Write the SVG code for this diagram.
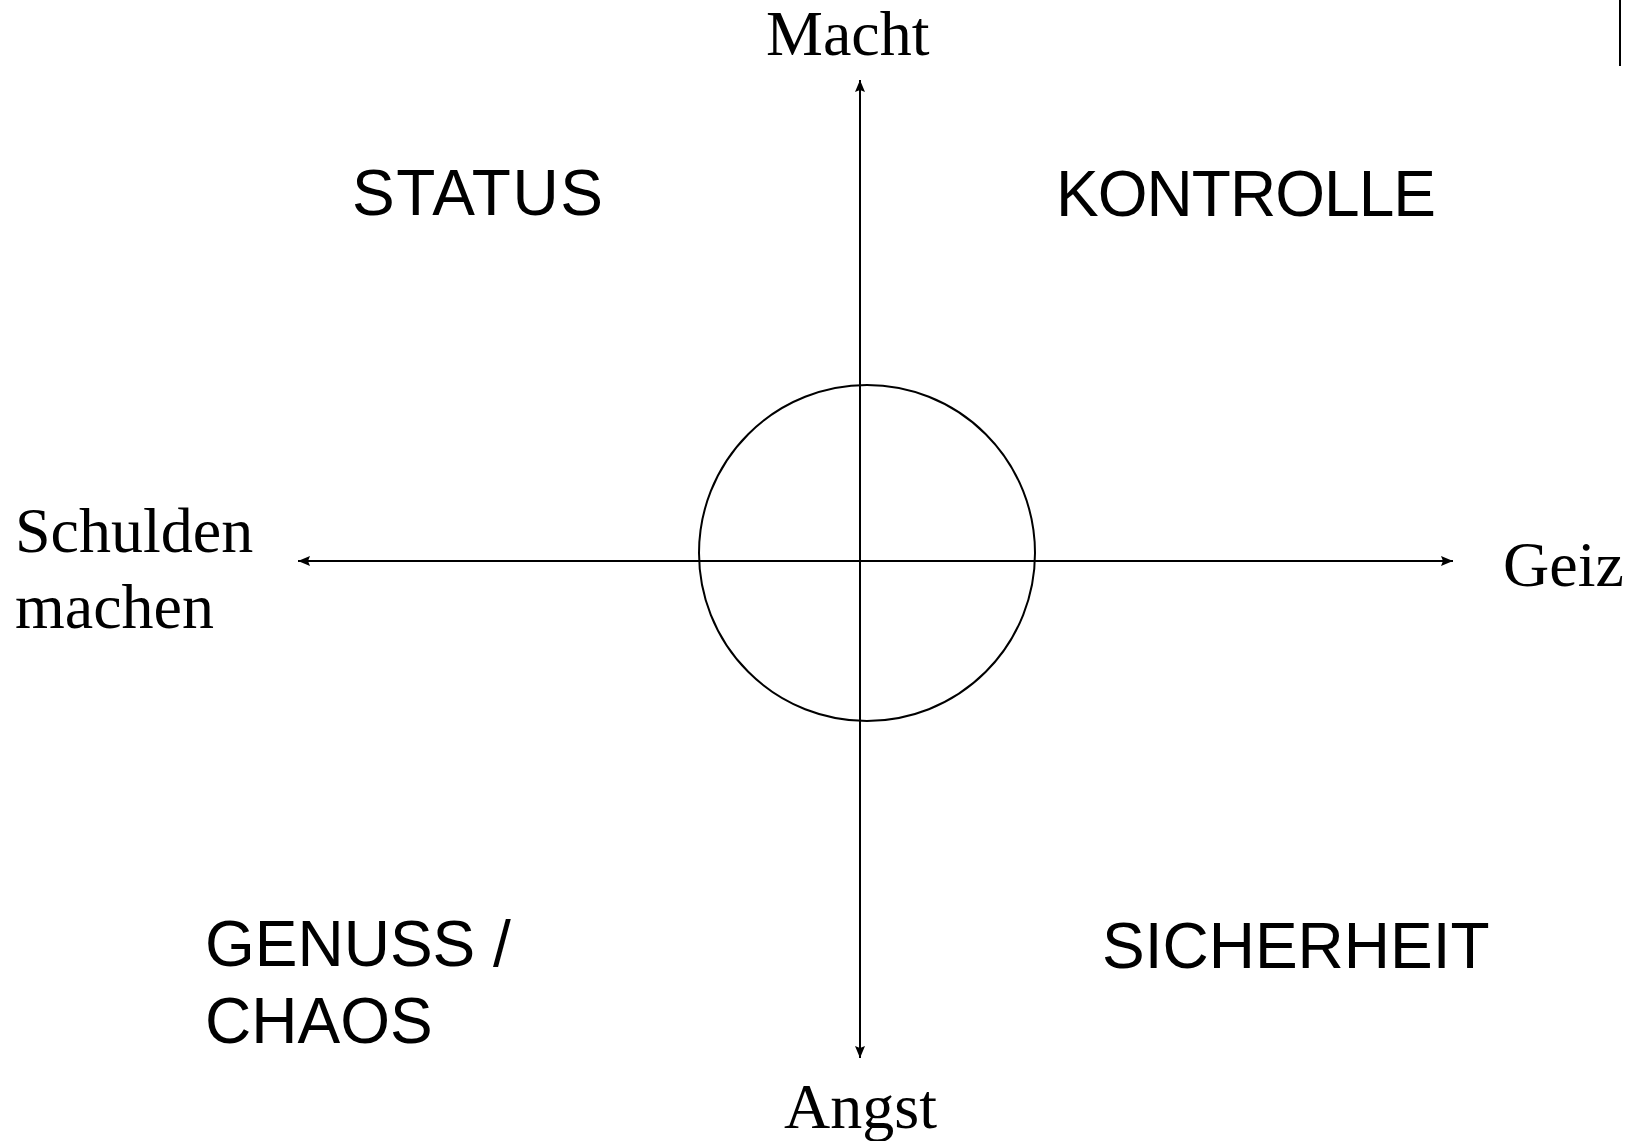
<svg xmlns="http://www.w3.org/2000/svg" width="1631" height="1141" viewBox="0 0 1631 1141">
<style>
.ax{stroke:#000;stroke-width:2;fill:none}
.serif{font-family:"Liberation Serif","Times New Roman",serif;font-size:64px;fill:#000}
.sans{font-family:"Liberation Sans",Arial,sans-serif;font-size:64px;fill:#000}
</style>
<defs>
<marker id="arr" viewBox="0 0 12 10" refX="12" refY="5" markerWidth="12" markerHeight="10" markerUnits="userSpaceOnUse" orient="auto">
<path d="M0,0 L12,5 L0,10 L2,5 z" fill="#000"/>
</marker>
</defs>
<rect width="1631" height="1141" fill="#fff"/>
<g id="connectors">
<line class="ax" x1="860" y1="561" x2="860" y2="80" marker-end="url(#arr)"/>
<line class="ax" x1="860" y1="561" x2="860" y2="1058" marker-end="url(#arr)"/>
<line class="ax" x1="860" y1="561" x2="298" y2="561" marker-end="url(#arr)"/>
<line class="ax" x1="860" y1="561" x2="1453" y2="561" marker-end="url(#arr)"/>
<line class="ax" x1="1620" y1="0" x2="1620" y2="66"/>
</g>
<g id="circle"><ellipse class="ax" cx="867" cy="553" rx="168" ry="168"/></g>
<g id="macht"><text class="serif" x="766" y="55">Macht</text></g>
<g id="angst"><text class="serif" x="784" y="1128">Angst</text></g>
<g id="schulden"><text class="serif" x="15" y="552">Schulden</text><text class="serif" x="15" y="628">machen</text></g>
<g id="geiz"><text class="serif" x="1503" y="586">Geiz</text></g>
<g id="status"><text class="sans" x="352" y="215" textLength="251" lengthAdjust="spacing">STATUS</text></g>
<g id="kontrolle"><text class="sans" x="1056" y="216" textLength="380" lengthAdjust="spacing">KONTROLLE</text></g>
<g id="genuss"><text class="sans" x="205" y="966">GENUSS /</text><text class="sans" x="205" y="1043">CHAOS</text></g>
<g id="sicherheit"><text class="sans" x="1102" y="968">SICHERHEIT</text></g>
</svg>
